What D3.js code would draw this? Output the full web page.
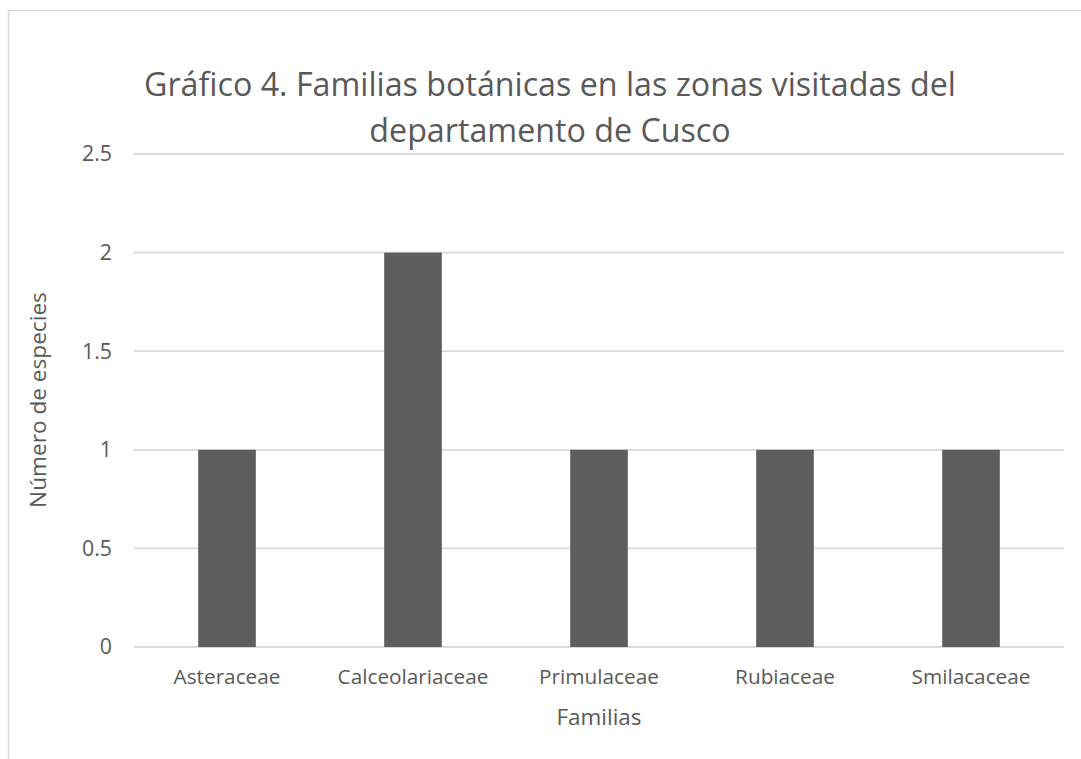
<!DOCTYPE html>
<html>
<head>
<meta charset="utf-8">
<script src="https://cdn.jsdelivr.net/npm/d3@7"></script>
<style>
  body { margin: 0; background: #fff; }
  svg text { font-family: "Open Sans", sans-serif; fill: #595959; }
</style>
</head>
<body>
<svg id="chart" width="1081" height="759"></svg>
<script>
// data
var familias = ["Asteraceae", "Calceolariaceae", "Primulaceae", "Rubiaceae", "Smilacaceae"];
var especies = [1, 2, 1, 1, 1];
var yTicks = [0, 0.5, 1, 1.5, 2, 2.5];
var titleLines = ["Gráfico 4. Familias botánicas en las zonas visitadas del", "departamento de Cusco"];

var width = 1081, height = 759;
var plot = { left: 134, right: 1064, top: 154, bottom: 647 };

var svg = d3.select("#chart");

svg.append("rect")
    .attr("width", width).attr("height", height)
    .attr("fill", "#fff");

// outer chart border (only left/top visible in the crop)
svg.append("rect")
    .attr("x", 8.5).attr("y", 10.5)
    .attr("width", 1200).attr("height", 900)
    .attr("fill", "none")
    .attr("stroke", "#d9d9d9")
    .attr("stroke-width", 1.5);

// size a text element so its width matches what the picture shows
function fitWidth(sel, target) {
    sel.attr("font-size", 20);
    var w = sel.node().getComputedTextLength();
    sel.attr("font-size", 20 * target / w);
    return 20 * target / w;
}

var x = d3.scaleBand()
    .domain(familias)
    .range([plot.left, plot.right])
    .paddingInner(0.69)
    .paddingOuter(0.345);

var y = d3.scaleLinear()
    .domain([0, 2.5])
    .range([plot.bottom, plot.top]);

// gridlines
svg.append("g")
    .selectAll("line")
    .data(yTicks)
    .join("line")
    .attr("x1", plot.left).attr("x2", plot.right)
    .attr("y1", function (d) { return y(d); })
    .attr("y2", function (d) { return y(d); })
    .attr("stroke", "#d9d9d9")
    .attr("stroke-width", 1.8);

// bars
svg.append("g")
    .selectAll("rect")
    .data(especies)
    .join("rect")
    .attr("x", function (d, i) { return x(familias[i]); })
    .attr("y", function (d) { return y(d); })
    .attr("width", x.bandwidth())
    .attr("height", function (d) { return y(0) - y(d); })
    .attr("fill", "#5e5e5e");

// y axis (labels only)
var yAxis = svg.append("g")
    .attr("transform", "translate(" + plot.left + ",0)")
    .call(d3.axisLeft(y).tickValues(yTicks).tickFormat(d3.format("")).tickSize(0).tickPadding(22));
yAxis.select(".domain").remove();
var probe = yAxis.selectAll("text").filter(function (d) { return d === 2.5; });
var tickSize = fitWidth(probe, 30);
yAxis.selectAll("text")
    .attr("font-size", tickSize)
    .attr("font-family", null)
    .attr("fill", "#595959");

// x axis (labels only)
var xAxis = svg.append("g")
    .attr("transform", "translate(0," + plot.bottom + ")")
    .call(d3.axisBottom(x).tickSize(0).tickPadding(0));
xAxis.select(".domain").remove();
var catProbe = xAxis.selectAll("text").filter(function (d) { return d === "Asteraceae"; });
var catSize = fitWidth(catProbe, 107);
xAxis.selectAll("text")
    .attr("font-size", catSize)
    .attr("font-family", null)
    .attr("fill", "#595959")
    .attr("dy", null)
    .attr("y", 37);

// axis titles
var xTitle = svg.append("text")
    .attr("x", (plot.left + plot.right) / 2)
    .attr("y", 725)
    .attr("text-anchor", "middle")
    .text("Familias");
fitWidth(xTitle, 85);

var yTitle = svg.append("text")
    .attr("transform", "translate(46," + 400 + ") rotate(-90)")
    .attr("text-anchor", "middle")
    .text("Número de especies");
fitWidth(yTitle, 216);

// title
var t1 = svg.append("text")
    .attr("x", 550).attr("y", 96)
    .attr("text-anchor", "middle")
    .text(titleLines[0]);
var titleSize = fitWidth(t1, 812);
svg.append("text")
    .attr("x", 550).attr("y", 142)
    .attr("text-anchor", "middle")
    .attr("font-size", titleSize)
    .text(titleLines[1]);
</script>
</body>
</html>
